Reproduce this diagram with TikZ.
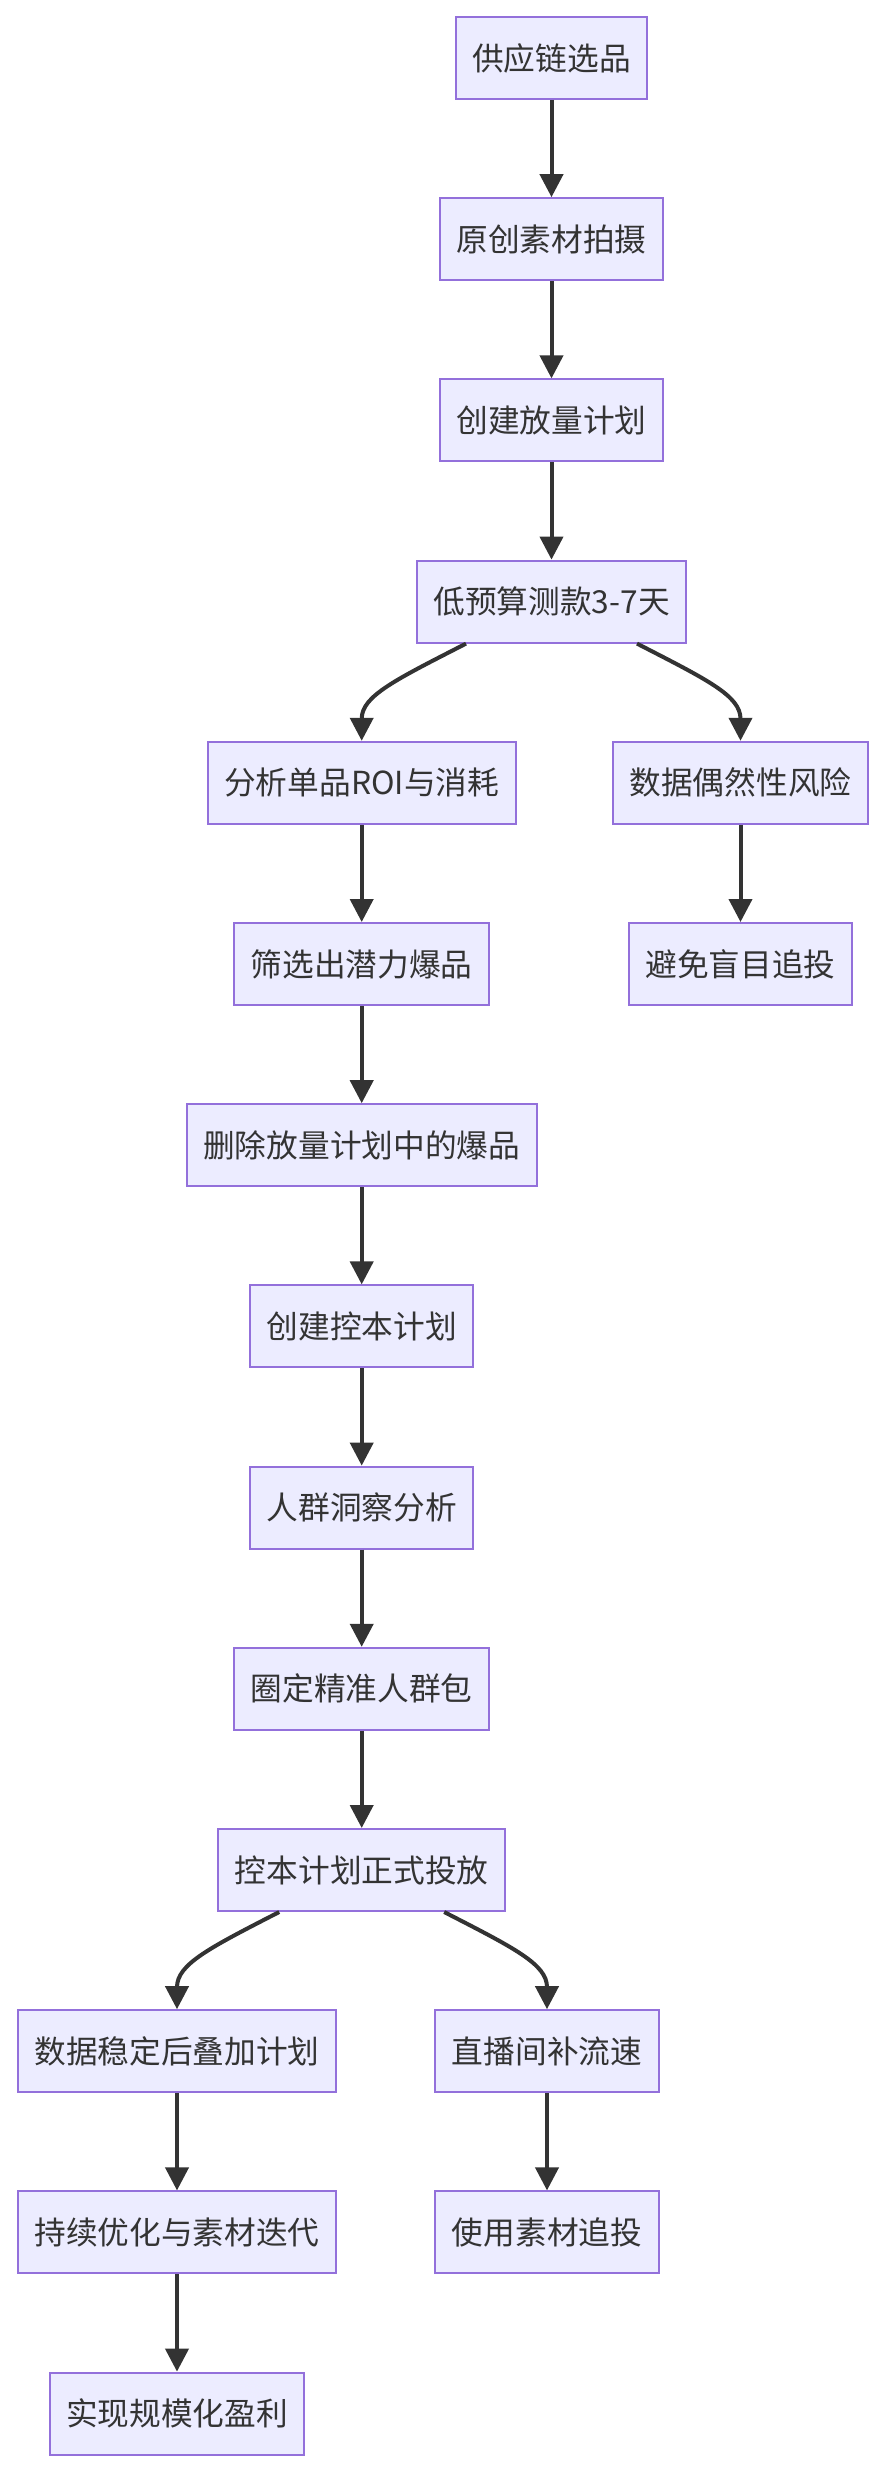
\documentclass[tikz,border=0pt]{standalone}
\usepackage{fontspec}
\newfontfamily\cjk{Noto Sans CJK SC}
\usetikzlibrary{arrows.meta}

\definecolor{boxfill}{HTML}{ECECFF}
\definecolor{boxline}{HTML}{9370DB}
\definecolor{inkcolor}{HTML}{333333}

\begin{document}
\begin{tikzpicture}[
    x=1pt, y=-1pt,
    box/.style={draw=boxline, fill=boxfill, line width=2pt, text=inkcolor,
        font=\cjk\fontsize{31.7}{38}\selectfont,
        inner xsep=16.5pt, inner ysep=0pt, minimum height=82pt},
    flow/.style={draw=inkcolor, line width=4pt,
        -{Triangle[length=23pt, width=23pt]}},
]

\useasboundingbox (0, 0) rectangle (884, 2472);

% Main column
\node[box] (top)       at (551.5, 58)    {供应链选品};
\node[box] (shoot)     at (551.5, 239.2) {原创素材拍摄};
\node[box] (scaleplan) at (551.5, 420.4) {创建放量计划};
\node[box] (test)      at (551.5, 601.6) {低预算测款3-7天};

% Test branches
\node[box] (roi)   at (361.7, 782.8) {分析单品ROI与消耗};
\node[box] (risk)  at (740.5, 782.8) {数据偶然性风险};
\node[box] (pick)  at (361.7, 964)   {筛选出潜力爆品};
\node[box] (avoid) at (740.5, 964)   {避免盲目追投};

% Cost control column
\node[box] (delplan)  at (361.7, 1145.2) {删除放量计划中的爆品};
\node[box] (costplan) at (361.7, 1326.4) {创建控本计划};
\node[box] (insight)  at (361.7, 1507.6) {人群洞察分析};
\node[box] (crowd)    at (361.7, 1688.8) {圈定精准人群包};
\node[box] (launch)   at (361.7, 1870)   {控本计划正式投放};

% Launch branches
\node[box] (stack)   at (177, 2051.2) {数据稳定后叠加计划};
\node[box] (live)    at (547, 2051.2) {直播间补流速};
\node[box] (iterate) at (177, 2232.4) {持续优化与素材迭代};
\node[box] (chase)   at (547, 2232.4) {使用素材追投};
\node[box] (profit)  at (177, 2413.6) {实现规模化盈利};

% Straight links
\foreach \a/\b in {
    top/shoot, shoot/scaleplan, scaleplan/test,
    roi/pick, risk/avoid, pick/delplan, delplan/costplan,
    costplan/insight, insight/crowd, crowd/launch,
    stack/iterate, iterate/profit, live/chase} {
    \draw[flow] (\a.south) -- (\b.north);
}

% Curved splits
\draw[flow] ([xshift=-85.5pt]test.south)
    .. controls +(-70, 36) and +(0, -45) .. (roi.north);
\draw[flow] ([xshift=85.5pt]test.south)
    .. controls +(70, 36) and +(0, -45) .. (risk.north);
\draw[flow] ([xshift=-82.5pt]launch.south)
    .. controls +(-70, 36) and +(0, -45) .. (stack.north);
\draw[flow] ([xshift=82.5pt]launch.south)
    .. controls +(70, 36) and +(0, -45) .. (live.north);

\end{tikzpicture}
\end{document}
